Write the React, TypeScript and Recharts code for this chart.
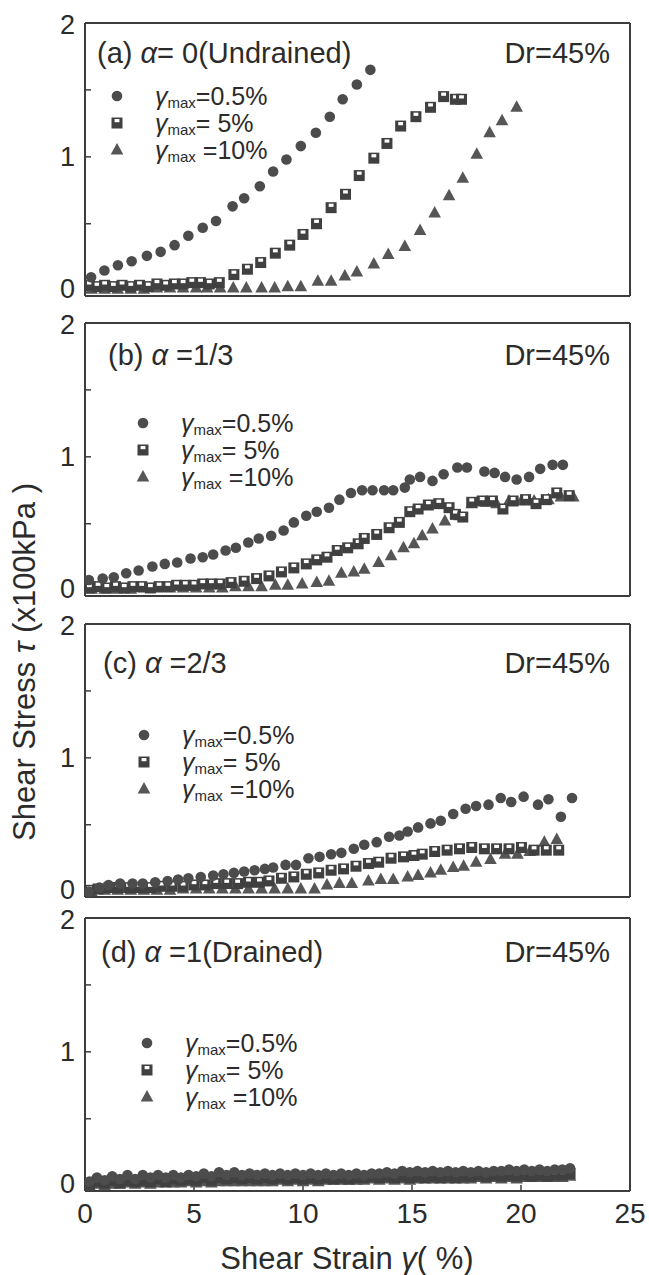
import { ScatterChart, Scatter, XAxis, YAxis } from "recharts";

const strainTicks = [0, 5, 10, 15, 20, 25];
const stressTicks = [0, 0.5, 1, 1.5, 2];

// (a) alpha = 0, undrained
const aCircles = [[0.28, 0.1], [0.89, 0.15], [1.51, 0.19], [2.14, 0.22], [2.84, 0.26], [3.47, 0.29], [4.11, 0.34], [4.74, 0.41], [5.4, 0.47], [6.01, 0.52], [6.77, 0.63], [7.3, 0.69], [8.02, 0.78], [8.63, 0.89], [9.24, 0.98], [9.9, 1.08], [10.59, 1.18], [11.23, 1.3], [11.82, 1.43], [12.47, 1.54], [13.09, 1.65]];
const aSquares = [[0.2, 0.04], [0.55, 0.03], [0.9, 0.04], [1.3, 0.03], [1.7, 0.04], [2.1, 0.03], [2.5, 0.04], [2.9, 0.03], [3.3, 0.05], [3.7, 0.04], [4.1, 0.05], [4.5, 0.05], [4.9, 0.06], [5.3, 0.06], [5.7, 0.05], [6.16, 0.06], [6.83, 0.12], [7.45, 0.16], [8.06, 0.21], [8.73, 0.28], [9.39, 0.34], [10.0, 0.42], [10.62, 0.5], [11.29, 0.62], [11.95, 0.72], [12.58, 0.86], [13.25, 0.99], [13.85, 1.1], [14.48, 1.23], [15.18, 1.3], [15.85, 1.37], [16.45, 1.45], [16.99, 1.43], [17.27, 1.43]];
const aTriangles = [[0.3, 0.01], [0.9, 0.01], [1.5, 0.01], [2.1, 0.01], [2.7, 0.01], [3.3, 0.02], [3.9, 0.02], [4.5, 0.02], [5.1, 0.02], [5.6, 0.02], [6.2, 0.02], [6.8, 0.02], [7.4, 0.02], [8.1, 0.02], [8.7, 0.02], [9.3, 0.03], [9.9, 0.03], [10.68, 0.07], [11.29, 0.07], [11.92, 0.11], [12.47, 0.14], [13.25, 0.2], [13.91, 0.27], [14.67, 0.33], [15.37, 0.45], [16.04, 0.58], [16.7, 0.71], [17.33, 0.84], [17.97, 1.02], [18.56, 1.18], [19.13, 1.27], [19.8, 1.37]];

// (b) alpha = 1/3
const bCircles = [[0.18, 0.08], [0.81, 0.09], [1.32, 0.1], [1.89, 0.13], [2.46, 0.15], [3.09, 0.18], [3.66, 0.2], [4.23, 0.21], [4.84, 0.24], [5.4, 0.25], [5.88, 0.27], [6.45, 0.3], [6.92, 0.32], [7.49, 0.36], [7.97, 0.39], [8.54, 0.41], [9.11, 0.45], [9.58, 0.51], [10.15, 0.56], [10.63, 0.59], [11.19, 0.62], [11.67, 0.68], [12.2, 0.73], [12.71, 0.75], [13.19, 0.75], [13.72, 0.75], [14.14, 0.75], [14.67, 0.77], [14.9, 0.83], [15.37, 0.85], [15.94, 0.82], [16.45, 0.87], [17.08, 0.92], [17.52, 0.92], [18.32, 0.89], [18.79, 0.88], [19.27, 0.85], [19.8, 0.83], [20.37, 0.85], [20.88, 0.91], [21.45, 0.94], [21.92, 0.94]];
const bSquares = [[0.2, 0.02], [0.6, 0.03], [1.0, 0.02], [1.4, 0.03], [1.8, 0.02], [2.2, 0.03], [2.6, 0.03], [3.0, 0.02], [3.4, 0.03], [3.8, 0.03], [4.2, 0.04], [4.6, 0.04], [5.0, 0.04], [5.4, 0.05], [5.8, 0.05], [6.2, 0.05], [6.7, 0.06], [7.3, 0.07], [7.87, 0.09], [8.44, 0.11], [9.01, 0.14], [9.58, 0.17], [10.15, 0.2], [10.63, 0.23], [11.1, 0.25], [11.57, 0.3], [12.05, 0.32], [12.53, 0.35], [12.81, 0.39], [13.38, 0.42], [13.95, 0.47], [14.42, 0.51], [14.9, 0.59], [15.28, 0.61], [15.75, 0.64], [16.23, 0.65], [16.7, 0.62], [16.99, 0.57], [17.33, 0.55], [17.74, 0.66], [18.22, 0.67], [18.69, 0.67], [19.17, 0.61], [19.64, 0.67], [20.21, 0.68], [20.69, 0.65], [21.16, 0.68], [21.64, 0.73], [22.21, 0.71]];
const bTriangles = [[0.3, 0.01], [0.9, 0.01], [1.5, 0.01], [2.1, 0.01], [2.7, 0.02], [3.3, 0.02], [3.9, 0.02], [4.5, 0.02], [5.1, 0.02], [5.7, 0.02], [6.3, 0.02], [6.9, 0.03], [7.5, 0.03], [8.1, 0.03], [8.73, 0.04], [9.3, 0.04], [9.96, 0.05], [10.63, 0.06], [11.19, 0.07], [11.76, 0.13], [12.33, 0.14], [12.81, 0.16], [13.47, 0.21], [14.04, 0.26], [14.61, 0.32], [15.09, 0.35], [15.47, 0.41], [15.94, 0.46], [16.51, 0.52], [17.18, 0.56], [17.74, 0.65], [18.41, 0.66], [18.88, 0.65], [19.45, 0.67], [20.02, 0.67], [20.6, 0.67], [21.26, 0.68], [21.83, 0.7], [22.4, 0.7]];

// (c) alpha = 2/3
const cCircles = [[0.18, 0.0], [0.66, 0.03], [1.08, 0.05], [1.61, 0.06], [2.18, 0.06], [2.65, 0.06], [3.22, 0.07], [3.79, 0.08], [4.27, 0.09], [4.74, 0.1], [5.31, 0.11], [5.88, 0.12], [6.35, 0.13], [6.83, 0.14], [7.3, 0.15], [7.78, 0.16], [8.25, 0.17], [8.63, 0.18], [9.2, 0.2], [9.68, 0.2], [10.25, 0.25], [10.76, 0.26], [11.29, 0.28], [11.76, 0.29], [12.33, 0.32], [12.81, 0.35], [13.38, 0.37], [13.95, 0.41], [14.42, 0.42], [14.8, 0.45], [15.28, 0.48], [15.85, 0.51], [16.32, 0.53], [16.89, 0.58], [17.46, 0.62], [17.94, 0.64], [18.51, 0.65], [19.07, 0.7], [19.55, 0.67], [20.12, 0.71], [20.78, 0.65], [21.26, 0.69], [21.83, 0.56], [22.34, 0.7]];
const cSquares = [[0.2, 0.01], [0.6, 0.02], [1.1, 0.03], [1.5, 0.03], [2.0, 0.03], [2.5, 0.03], [3.0, 0.03], [3.5, 0.04], [4.0, 0.04], [4.5, 0.04], [5.0, 0.05], [5.5, 0.05], [6.0, 0.06], [6.5, 0.06], [7.0, 0.06], [7.5, 0.07], [8.0, 0.07], [8.44, 0.08], [9.01, 0.1], [9.58, 0.11], [10.15, 0.13], [10.72, 0.14], [11.29, 0.16], [11.86, 0.17], [12.43, 0.19], [13.0, 0.21], [13.47, 0.22], [14.04, 0.25], [14.61, 0.26], [15.09, 0.27], [15.47, 0.28], [16.04, 0.3], [16.61, 0.31], [17.18, 0.32], [17.74, 0.33], [18.32, 0.32], [18.88, 0.32], [19.45, 0.32], [20.02, 0.33], [20.6, 0.31], [21.16, 0.31], [21.73, 0.31]];
const cTriangles = [[0.3, 0.0], [0.9, 0.01], [1.5, 0.01], [2.1, 0.01], [2.7, 0.01], [3.3, 0.01], [3.9, 0.01], [4.5, 0.02], [5.1, 0.02], [5.7, 0.02], [6.3, 0.02], [6.9, 0.02], [7.5, 0.02], [8.1, 0.02], [8.7, 0.02], [9.3, 0.02], [9.9, 0.02], [10.53, 0.02], [11.1, 0.05], [11.67, 0.06], [12.24, 0.06], [13.0, 0.08], [13.57, 0.09], [14.14, 0.09], [14.8, 0.11], [15.28, 0.12], [15.85, 0.14], [16.32, 0.16], [16.89, 0.18], [17.37, 0.19], [17.94, 0.22], [18.6, 0.24], [19.27, 0.28], [19.84, 0.28], [20.4, 0.3], [21.07, 0.37], [21.64, 0.39]];

// (d) alpha = 1, drained: dense cycles, one strain list shared by the three series
const dStrain = [0.2, 0.55, 0.9, 1.25, 1.6, 1.95, 2.3, 2.65, 3.0, 3.35, 3.7, 4.05, 4.4, 4.75, 5.1, 5.45, 5.8, 6.15, 6.5, 6.85, 7.2, 7.55, 7.9, 8.25, 8.6, 8.95, 9.3, 9.65, 10.0, 10.35, 10.7, 11.05, 11.4, 11.75, 12.1, 12.45, 12.8, 13.15, 13.5, 13.85, 14.2, 14.55, 14.9, 15.25, 15.6, 15.95, 16.3, 16.65, 17.0, 17.35, 17.7, 18.05, 18.4, 18.75, 19.1, 19.45, 19.8, 20.15, 20.5, 20.85, 21.2, 21.55, 21.9, 22.25];
const dCircleStress = [0.03, 0.06, 0.04, 0.07, 0.05, 0.08, 0.05, 0.08, 0.06, 0.08, 0.06, 0.08, 0.06, 0.08, 0.07, 0.09, 0.07, 0.1, 0.08, 0.1, 0.08, 0.09, 0.08, 0.09, 0.08, 0.09, 0.08, 0.09, 0.08, 0.09, 0.08, 0.09, 0.08, 0.09, 0.08, 0.09, 0.08, 0.09, 0.09, 0.1, 0.09, 0.11, 0.1, 0.11, 0.1, 0.11, 0.1, 0.11, 0.1, 0.11, 0.1, 0.11, 0.1, 0.11, 0.11, 0.12, 0.11, 0.12, 0.11, 0.12, 0.11, 0.12, 0.12, 0.13];
const dSquareStress = [0.01, 0.03, 0.02, 0.04, 0.02, 0.04, 0.03, 0.04, 0.03, 0.05, 0.03, 0.05, 0.04, 0.05, 0.04, 0.06, 0.04, 0.06, 0.05, 0.06, 0.05, 0.06, 0.05, 0.06, 0.05, 0.06, 0.05, 0.06, 0.05, 0.06, 0.05, 0.06, 0.05, 0.06, 0.05, 0.06, 0.06, 0.07, 0.06, 0.07, 0.06, 0.07, 0.06, 0.07, 0.06, 0.07, 0.06, 0.07, 0.06, 0.07, 0.07, 0.08, 0.07, 0.08, 0.07, 0.08, 0.07, 0.08, 0.07, 0.08, 0.07, 0.08, 0.08, 0.09];
const dTriangleStress = [0.0, 0.01, 0.0, 0.01, 0.01, 0.02, 0.01, 0.02, 0.01, 0.02, 0.02, 0.02, 0.02, 0.03, 0.02, 0.03, 0.02, 0.03, 0.03, 0.03, 0.03, 0.03, 0.03, 0.03, 0.03, 0.04, 0.03, 0.04, 0.03, 0.04, 0.03, 0.04, 0.04, 0.04, 0.04, 0.04, 0.04, 0.05, 0.04, 0.05, 0.04, 0.05, 0.04, 0.05, 0.05, 0.05, 0.05, 0.05, 0.05, 0.05, 0.05, 0.06, 0.05, 0.06, 0.05, 0.06, 0.05, 0.06, 0.06, 0.06, 0.06, 0.06, 0.06, 0.07];

const legendLabels = ["=0.5%", "=  5%", " =10%"];

const FONT = "'Liberation Sans', Arial, Helvetica, sans-serif";
const INK = "#2b2b2b";
const FRAME = "#3d3d3d";

const toPoints = (rows: number[][]) => rows.map(([x, y]) => ({ x, y }));
const zip = (xs: number[], ys: number[]) => xs.map((x, i) => [x, ys[i]]);

const CircleMark = (props: any) => <circle cx={props.cx} cy={props.cy} r={5.3} fill="#4c4c4c" />;

const SquareMark = (props: any) => {
    const { cx, cy } = props;
    return (
        <g>
            <rect x={cx - 5.5} y={cy - 5.5} width={11} height={11} fill="#404040" />
            <rect x={cx - 2.4} y={cy - 4} width={4.8} height={3.2} fill="#ffffff" />
        </g>
    );
};

const TriangleMark = (props: any) => {
    const { cx, cy } = props;
    return <path d={`M${cx},${cy - 7} L${cx + 6.3},${cy + 4.5} L${cx - 6.3},${cy + 4.5} Z`} fill="#565656" />;
};

const markers = [CircleMark, SquareMark, TriangleMark];

// stress tick labels: only whole numbers, the end labels nudged inward so stacked panels don't collide
const StressTick = (props: any) => {
    const v = props.payload?.value;
    if (!Number.isInteger(v)) return <g />;
    const shift = v === 2 ? 2 : v === 0 ? -2 : 0;
    return (
        <text x={props.x} y={props.y + shift} textAnchor="end" dominantBaseline="central" fontSize={27} fill={INK} fontFamily={FONT}>
            {v}
        </text>
    );
};

interface PanelSpec {
    top: number;
    tag: string;
    rest: string;
    titleX: number;
    titleY: number;
    legendX: number;
    legendRows: number[];
    circles: number[][];
    squares: number[][];
    triangles: number[][];
    showX: boolean;
}

const panels: PanelSpec[] = [
    { top: 23, tag: "(a) ", rest: "= 0(Undrained)", titleX: 97, titleY: 53, legendX: 117, legendRows: [96, 123, 150], circles: aCircles, squares: aSquares, triangles: aTriangles, showX: false },
    { top: 323, tag: "(b) ", rest: " =1/3", titleX: 108, titleY: 355, legendX: 143, legendRows: [423, 450, 477], circles: bCircles, squares: bSquares, triangles: bTriangles, showX: false },
    { top: 624, tag: "(c) ", rest: " =2/3", titleX: 103, titleY: 663, legendX: 144, legendRows: [735, 762, 789], circles: cCircles, squares: cSquares, triangles: cTriangles, showX: false },
    { top: 918, tag: "(d) ", rest: " =1(Drained)", titleX: 101, titleY: 952, legendX: 147, legendRows: [1043, 1070, 1097], circles: zip(dStrain, dCircleStress), squares: zip(dStrain, dSquareStress), triangles: zip(dStrain, dTriangleStress), showX: true },
];

const PLOT_H = 273;
const M_TOP = 20;
const TOP_AXIS_H = 10;
const BOTTOM_AXIS_H = 40;

function Panel({ p }: { p: PanelSpec }) {
    const height = M_TOP + TOP_AXIS_H + PLOT_H + BOTTOM_AXIS_H + 4;
    const frame = { stroke: FRAME, strokeWidth: 2 };
    const tickLine = { stroke: FRAME, strokeWidth: 1.5 };
    return (
        <div style={{ position: "absolute", left: 0, top: p.top - M_TOP - TOP_AXIS_H }}>
            <ScatterChart width={649} height={height} margin={{ top: M_TOP, right: 0, bottom: 4, left: 25 }}>
                <XAxis
                    xAxisId="b"
                    dataKey="x"
                    type="number"
                    orientation="bottom"
                    domain={[0, 25]}
                    ticks={strainTicks}
                    interval={0}
                    height={BOTTOM_AXIS_H}
                    tickSize={-6}
                    tickMargin={18}
                    axisLine={frame}
                    tickLine={tickLine}
                    tick={p.showX ? { fontSize: 28, fill: INK, fontFamily: FONT } : false}
                    allowDataOverflow
                />
                <XAxis
                    xAxisId="t"
                    type="number"
                    orientation="top"
                    domain={[0, 25]}
                    ticks={strainTicks}
                    interval={0}
                    height={TOP_AXIS_H}
                    tickSize={-6}
                    axisLine={frame}
                    tickLine={tickLine}
                    tick={false}
                />
                <YAxis
                    yAxisId="l"
                    dataKey="y"
                    type="number"
                    domain={[-0.04, 2]}
                    ticks={stressTicks}
                    interval={0}
                    width={60}
                    tickSize={-6}
                    tickMargin={16}
                    axisLine={frame}
                    tickLine={tickLine}
                    tick={<StressTick />}
                    allowDataOverflow
                />
                <YAxis
                    yAxisId="r"
                    type="number"
                    orientation="right"
                    domain={[-0.04, 2]}
                    ticks={stressTicks}
                    interval={0}
                    width={19}
                    tickSize={-6}
                    axisLine={frame}
                    tickLine={tickLine}
                    tick={false}
                />
                <Scatter xAxisId="b" yAxisId="l" data={toPoints(p.triangles)} shape={TriangleMark} isAnimationActive={false} />
                <Scatter xAxisId="b" yAxisId="l" data={toPoints(p.squares)} shape={SquareMark} isAnimationActive={false} />
                <Scatter xAxisId="b" yAxisId="l" data={toPoints(p.circles)} shape={CircleMark} isAnimationActive={false} />
            </ScatterChart>
        </div>
    );
}

function Annotations() {
    return (
        <svg width={649} height={1275} style={{ position: "absolute", left: 0, top: 0, pointerEvents: "none" }}>
            <g fontFamily={FONT} fill={INK} style={{ whiteSpace: "pre" }}>
                {panels.map((p, i) => (
                    <g key={i}>
                        <text x={p.titleX} y={p.titleY} fontSize={29} dominantBaseline="central">
                            {p.tag}
                            <tspan fontStyle="italic">α</tspan>
                            {p.rest}
                        </text>
                        <text x={610} y={p.titleY} fontSize={29} textAnchor="end" dominantBaseline="central">
                            Dr=45%
                        </text>
                        {p.legendRows.map((y, j) => {
                            const Mark = markers[j];
                            return (
                                <g key={j}>
                                    <Mark cx={p.legendX} cy={y} />
                                    <text x={p.legendX + 38} y={y} fontSize={25} dominantBaseline="central">
                                        <tspan fontStyle="italic">γ</tspan>
                                        <tspan fontSize={15} dy={6}>max</tspan>
                                        <tspan dy={-6}>{legendLabels[j]}</tspan>
                                    </text>
                                </g>
                            );
                        })}
                    </g>
                ))}
                <text x={347} y={1258} fontSize={31} textAnchor="middle" dominantBaseline="central">
                    Shear Strain <tspan fontStyle="italic">γ</tspan>(  %)
                </text>
                <text
                    x={24}
                    y={662}
                    fontSize={31}
                    textAnchor="middle"
                    dominantBaseline="central"
                    transform="rotate(-90 24 662)"
                >
                    Shear Stress  <tspan fontStyle="italic">τ</tspan>  (x100kPa )
                </text>
            </g>
        </svg>
    );
}

export default function App() {
    return (
        <div style={{ position: "absolute", left: 0, top: 0, width: 649, height: 1275, background: "#fff", fontFamily: FONT }}>
            {panels.map((p, i) => (
                <Panel key={i} p={p} />
            ))}
            <Annotations />
        </div>
    );
}
